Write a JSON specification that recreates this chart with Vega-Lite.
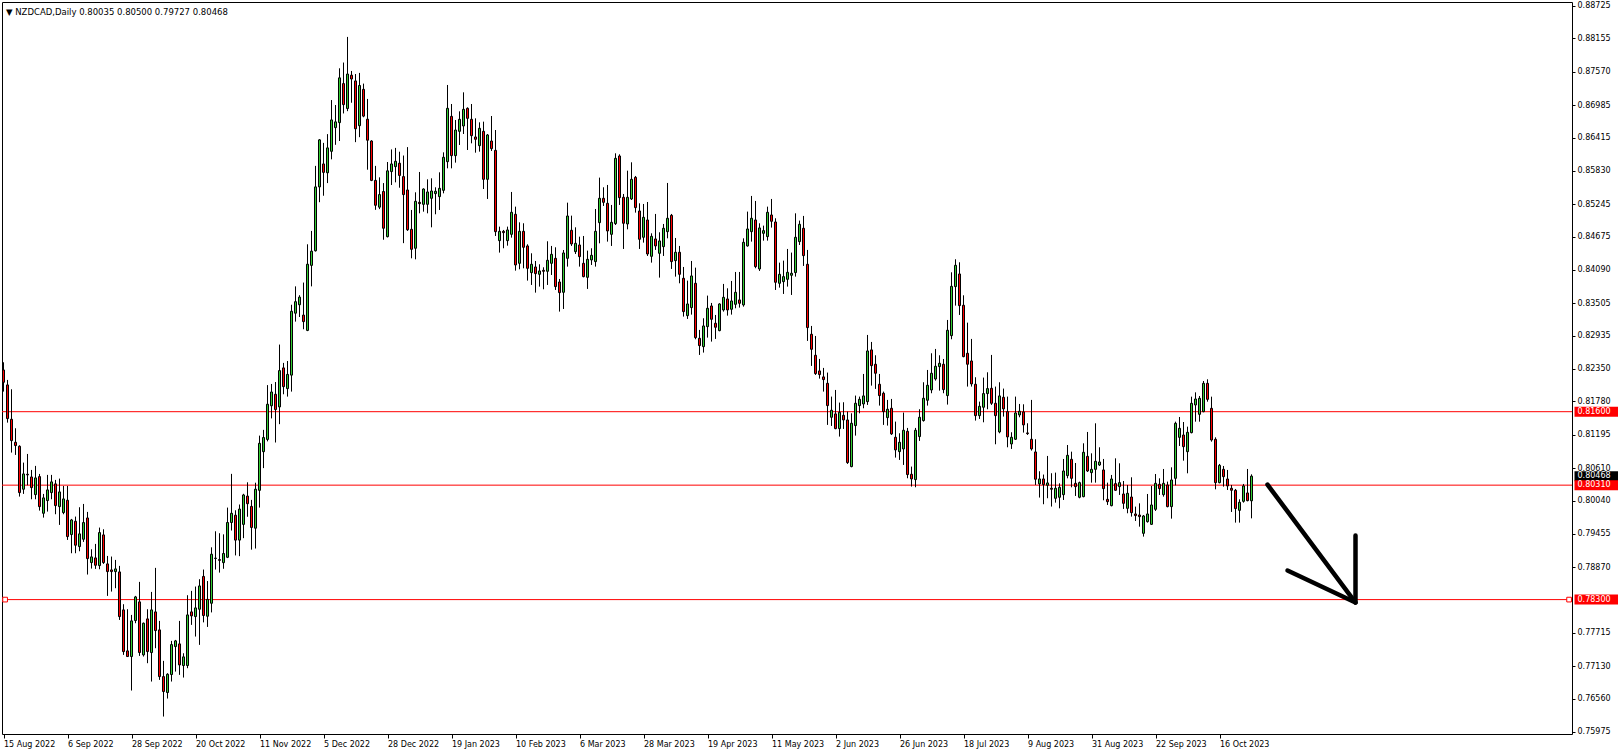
{
"$schema":"https://vega.github.io/schema/vega-lite/v6.json",
"width":1570,"height":732,"autosize":"none",
"padding":{"left":2,"top":2,"right":46,"bottom":21},
"background":"white",
"config":{"view":{"stroke":"#000","strokeWidth":1},"font":"DejaVu Sans",
 "axisX":{"grid":false,"domain":false,"tickSize":4,"tickColor":"#000","tickWidth":1,"labelAlign":"left","labelBaseline":"top","labelPadding":2,"labelDx":1,"labelFont":"DejaVu Sans","labelFontSize":8,"labelColor":"#000","labelOverlap":false,"labelFlush":false,"labelBound":false,"title":null,"offset":0},
 "axisY":{"grid":false,"domain":false,"tickSize":3,"tickColor":"#000","tickWidth":1,"labelPadding":2,"labelFont":"DejaVu Sans","labelFontSize":8,"labelColor":"#000","labelOverlap":false,"labelFlush":false,"labelBound":false,"labelBaseline":"middle","title":null,"offset":0}},
"title":{"text":"▼ NZDCAD,Daily  0.80035 0.80500 0.79727 0.80468","anchor":"start","frame":"group","orient":"top","offset":0,"baseline":"alphabetic","dy":22,"dx":4,"fontSize":8.5,"fontWeight":"normal","font":"DejaVu Sans","color":"#000"},
"datasets":{
"lv":[{"p":0.816},{"p":0.8031},{"p":0.783}],
"sq":[{"i":0.4,"p":0.783},{"i":391.4,"p":0.783}],
"lab":[{"p":0.80468,"t":"0.80468","k":"bid"},{"p":0.816,"t":"0.81600","k":"line"},{"p":0.8031,"t":"0.80310","k":"line"},{"p":0.783,"t":"0.78300","k":"line"}],
"arrow":[{"s":"a","n":1,"i":316,"p":0.8032},{"s":"a","n":2,"i":338,"p":0.78248},{"s":"b","n":1,"i":338,"p":0.79425},{"s":"b","n":2,"i":338,"p":0.78248},{"s":"b","n":3,"i":321,"p":0.7881}],
"k":[
{"i":0,"o":0.82333,"h":0.82468,"l":0.81953,"c":0.82117},
{"i":1,"o":0.8207,"h":0.82158,"l":0.81408,"c":0.81479},
{"i":2,"o":0.81467,"h":0.81994,"l":0.80882,"c":0.81092},
{"i":3,"o":0.81063,"h":0.81309,"l":0.80841,"c":0.81005},
{"i":4,"o":0.80993,"h":0.8101,"l":0.80109,"c":0.80179},
{"i":5,"o":0.80238,"h":0.80706,"l":0.80156,"c":0.80507},
{"i":6,"o":0.80501,"h":0.80858,"l":0.80308,"c":0.8049},
{"i":7,"o":0.80454,"h":0.80577,"l":0.80062,"c":0.80267},
{"i":8,"o":0.80144,"h":0.80648,"l":0.80062,"c":0.80437},
{"i":9,"o":0.8046,"h":0.80507,"l":0.79863,"c":0.79933},
{"i":10,"o":0.79816,"h":0.80156,"l":0.7974,"c":0.80086},
{"i":11,"o":0.80039,"h":0.8049,"l":0.79846,"c":0.80226},
{"i":12,"o":0.80179,"h":0.8049,"l":0.80062,"c":0.80367},
{"i":13,"o":0.80332,"h":0.80402,"l":0.79799,"c":0.79951},
{"i":14,"o":0.79933,"h":0.80425,"l":0.79612,"c":0.80191},
{"i":15,"o":0.79828,"h":0.80296,"l":0.79799,"c":0.80068},
{"i":16,"o":0.80045,"h":0.80296,"l":0.79348,"c":0.79407},
{"i":17,"o":0.79442,"h":0.79717,"l":0.79114,"c":0.79699},
{"i":18,"o":0.79676,"h":0.79758,"l":0.79114,"c":0.79255},
{"i":19,"o":0.79231,"h":0.79922,"l":0.79149,"c":0.79454},
{"i":20,"o":0.7936,"h":0.7998,"l":0.79313,"c":0.79653},
{"i":21,"o":0.79734,"h":0.7984,"l":0.7874,"c":0.7902},
{"i":22,"o":0.7895,"h":0.79184,"l":0.78845,"c":0.7905},
{"i":23,"o":0.79032,"h":0.79278,"l":0.78839,"c":0.78903},
{"i":24,"o":0.78898,"h":0.79565,"l":0.78833,"c":0.79477},
{"i":25,"o":0.79436,"h":0.79535,"l":0.78927,"c":0.7895},
{"i":26,"o":0.78927,"h":0.79067,"l":0.78365,"c":0.78792},
{"i":27,"o":0.78821,"h":0.79056,"l":0.78441,"c":0.78792},
{"i":28,"o":0.78792,"h":0.78997,"l":0.785,"c":0.78839},
{"i":29,"o":0.78786,"h":0.78892,"l":0.77943,"c":0.78002},
{"i":30,"o":0.78119,"h":0.78219,"l":0.77329,"c":0.77387},
{"i":31,"o":0.77399,"h":0.78131,"l":0.77295,"c":0.773},
{"i":32,"o":0.773,"h":0.78031,"l":0.76703,"c":0.77926},
{"i":33,"o":0.77932,"h":0.78365,"l":0.77885,"c":0.78347},
{"i":34,"o":0.7826,"h":0.78611,"l":0.77311,"c":0.7737},
{"i":35,"o":0.77329,"h":0.77897,"l":0.773,"c":0.77885},
{"i":36,"o":0.77961,"h":0.78131,"l":0.77183,"c":0.77387},
{"i":37,"o":0.7737,"h":0.78435,"l":0.76861,"c":0.78119},
{"i":38,"o":0.78084,"h":0.78857,"l":0.77446,"c":0.77756},
{"i":39,"o":0.77768,"h":0.77926,"l":0.7689,"c":0.76948},
{"i":40,"o":0.76948,"h":0.77224,"l":0.76246,"c":0.76685},
{"i":41,"o":0.76668,"h":0.77007,"l":0.76562,"c":0.76989},
{"i":42,"o":0.76984,"h":0.77575,"l":0.76861,"c":0.7751},
{"i":43,"o":0.77475,"h":0.77592,"l":0.77036,"c":0.77575},
{"i":44,"o":0.77522,"h":0.77926,"l":0.76978,"c":0.77153},
{"i":45,"o":0.77142,"h":0.77358,"l":0.76931,"c":0.77294},
{"i":46,"o":0.77142,"h":0.78377,"l":0.77095,"c":0.78031},
{"i":47,"o":0.78084,"h":0.78453,"l":0.77856,"c":0.78014},
{"i":48,"o":0.78002,"h":0.78529,"l":0.77651,"c":0.78154},
{"i":49,"o":0.78131,"h":0.78658,"l":0.77505,"c":0.7854},
{"i":50,"o":0.78707,"h":0.78828,"l":0.779,"c":0.78021},
{"i":51,"o":0.78008,"h":0.78626,"l":0.7782,"c":0.78304},
{"i":52,"o":0.78236,"h":0.79218,"l":0.78075,"c":0.79097},
{"i":53,"o":0.79022,"h":0.795,"l":0.78828,"c":0.79029},
{"i":54,"o":0.79003,"h":0.79466,"l":0.78774,"c":0.78989},
{"i":55,"o":0.78949,"h":0.79446,"l":0.78841,"c":0.7911},
{"i":56,"o":0.79043,"h":0.79916,"l":0.79029,"c":0.79654},
{"i":57,"o":0.79654,"h":0.80508,"l":0.79513,"c":0.79816},
{"i":58,"o":0.79782,"h":0.79869,"l":0.79076,"c":0.79345},
{"i":59,"o":0.79345,"h":0.7997,"l":0.79063,"c":0.7989},
{"i":60,"o":0.79621,"h":0.80158,"l":0.79379,"c":0.80138},
{"i":61,"o":0.80118,"h":0.8036,"l":0.79755,"c":0.79984},
{"i":62,"o":0.79937,"h":0.80051,"l":0.79177,"c":0.79567},
{"i":63,"o":0.79554,"h":0.80353,"l":0.79197,"c":0.80239},
{"i":64,"o":0.80219,"h":0.8118,"l":0.79916,"c":0.81045},
{"i":65,"o":0.80898,"h":0.81281,"l":0.80609,"c":0.81146},
{"i":66,"o":0.81113,"h":0.82067,"l":0.81079,"c":0.81731},
{"i":67,"o":0.81704,"h":0.82087,"l":0.81482,"c":0.81946},
{"i":68,"o":0.81906,"h":0.82121,"l":0.81059,"c":0.81637},
{"i":69,"o":0.81684,"h":0.82779,"l":0.81381,"c":0.82322},
{"i":70,"o":0.82369,"h":0.82457,"l":0.81906,"c":0.8204},
{"i":71,"o":0.82006,"h":0.8249,"l":0.81865,"c":0.82255},
{"i":72,"o":0.82242,"h":0.83478,"l":0.81953,"c":0.83364},
{"i":73,"o":0.8333,"h":0.83801,"l":0.83182,"c":0.83532},
{"i":74,"o":0.83478,"h":0.83646,"l":0.83263,"c":0.83612},
{"i":75,"o":0.83297,"h":0.83868,"l":0.83048,"c":0.83182},
{"i":76,"o":0.83028,"h":0.8454,"l":0.83015,"c":0.8419},
{"i":77,"o":0.8417,"h":0.84775,"l":0.83801,"c":0.84419},
{"i":78,"o":0.84426,"h":0.85917,"l":0.84413,"c":0.85548},
{"i":79,"o":0.85548,"h":0.86388,"l":0.85279,"c":0.86374},
{"i":80,"o":0.85951,"h":0.86321,"l":0.85393,"c":0.85803},
{"i":81,"o":0.85796,"h":0.86475,"l":0.85615,"c":0.86233},
{"i":82,"o":0.86173,"h":0.87073,"l":0.86032,"c":0.86724},
{"i":83,"o":0.86589,"h":0.86986,"l":0.86287,"c":0.8669},
{"i":84,"o":0.86677,"h":0.87631,"l":0.86354,"c":0.87463},
{"i":85,"o":0.87362,"h":0.87732,"l":0.86838,"c":0.86993},
{"i":86,"o":0.86925,"h":0.88182,"l":0.86878,"c":0.8753},
{"i":87,"o":0.8751,"h":0.87584,"l":0.87026,"c":0.87443},
{"i":88,"o":0.87409,"h":0.8753,"l":0.86334,"c":0.86569},
{"i":89,"o":0.86623,"h":0.8755,"l":0.86421,"c":0.87329},
{"i":90,"o":0.87261,"h":0.87362,"l":0.86771,"c":0.86791},
{"i":91,"o":0.86737,"h":0.87093,"l":0.8585,"c":0.86368},
{"i":92,"o":0.86354,"h":0.86368,"l":0.85649,"c":0.85662},
{"i":93,"o":0.85662,"h":0.85917,"l":0.85145,"c":0.85225},
{"i":94,"o":0.85192,"h":0.85716,"l":0.85158,"c":0.85413},
{"i":95,"o":0.85467,"h":0.85615,"l":0.8462,"c":0.84822},
{"i":96,"o":0.84674,"h":0.85985,"l":0.84661,"c":0.8583},
{"i":97,"o":0.85817,"h":0.86206,"l":0.85581,"c":0.85951},
{"i":98,"o":0.85904,"h":0.86233,"l":0.85628,"c":0.85998},
{"i":99,"o":0.85964,"h":0.86166,"l":0.85534,"c":0.85749},
{"i":100,"o":0.85729,"h":0.86099,"l":0.8456,"c":0.85413},
{"i":101,"o":0.85494,"h":0.86247,"l":0.84775,"c":0.84795},
{"i":102,"o":0.84803,"h":0.85143,"l":0.84294,"c":0.84452},
{"i":103,"o":0.8447,"h":0.85453,"l":0.84276,"c":0.85295},
{"i":104,"o":0.85277,"h":0.8581,"l":0.85084,"c":0.85254},
{"i":105,"o":0.85242,"h":0.85523,"l":0.85113,"c":0.85511},
{"i":106,"o":0.85242,"h":0.85681,"l":0.85084,"c":0.85459},
{"i":107,"o":0.85348,"h":0.85699,"l":0.84838,"c":0.85476},
{"i":108,"o":0.8543,"h":0.85541,"l":0.85067,"c":0.85471},
{"i":109,"o":0.85377,"h":0.85804,"l":0.85143,"c":0.85523},
{"i":110,"o":0.85488,"h":0.86155,"l":0.85435,"c":0.86068},
{"i":111,"o":0.85991,"h":0.87338,"l":0.85874,"c":0.86928},
{"i":112,"o":0.86787,"h":0.87004,"l":0.85874,"c":0.86097},
{"i":113,"o":0.86097,"h":0.86723,"l":0.85974,"c":0.86547},
{"i":114,"o":0.86524,"h":0.86875,"l":0.86284,"c":0.86735},
{"i":115,"o":0.86618,"h":0.87209,"l":0.86477,"c":0.8691},
{"i":116,"o":0.86928,"h":0.86945,"l":0.86196,"c":0.86752},
{"i":117,"o":0.86735,"h":0.87004,"l":0.86313,"c":0.86448},
{"i":118,"o":0.86425,"h":0.86752,"l":0.86149,"c":0.86384},
{"i":119,"o":0.86272,"h":0.86682,"l":0.86167,"c":0.86577},
{"i":120,"o":0.86524,"h":0.86694,"l":0.85511,"c":0.85681},
{"i":121,"o":0.85681,"h":0.86477,"l":0.85336,"c":0.8646},
{"i":122,"o":0.86354,"h":0.86793,"l":0.86179,"c":0.8622},
{"i":123,"o":0.8619,"h":0.86547,"l":0.84686,"c":0.84762},
{"i":124,"o":0.84604,"h":0.8485,"l":0.84394,"c":0.84768},
{"i":125,"o":0.84768,"h":0.84792,"l":0.8447,"c":0.84745},
{"i":126,"o":0.84604,"h":0.8485,"l":0.84516,"c":0.84792},
{"i":127,"o":0.84715,"h":0.85459,"l":0.84657,"c":0.85102},
{"i":128,"o":0.85067,"h":0.85201,"l":0.84077,"c":0.84177},
{"i":129,"o":0.84206,"h":0.84926,"l":0.84101,"c":0.84768},
{"i":130,"o":0.84768,"h":0.84909,"l":0.84118,"c":0.84487},
{"i":131,"o":0.84511,"h":0.8454,"l":0.83902,"c":0.84118},
{"i":132,"o":0.84042,"h":0.84382,"l":0.83826,"c":0.84189},
{"i":133,"o":0.84142,"h":0.84247,"l":0.83691,"c":0.84025},
{"i":134,"o":0.84013,"h":0.84189,"l":0.83797,"c":0.84072},
{"i":135,"o":0.84083,"h":0.84136,"l":0.8375,"c":0.84066},
{"i":136,"o":0.84066,"h":0.84593,"l":0.83826,"c":0.84259},
{"i":137,"o":0.84206,"h":0.84511,"l":0.84001,"c":0.84364},
{"i":138,"o":0.84294,"h":0.84487,"l":0.83738,"c":0.83797},
{"i":139,"o":0.83878,"h":0.83931,"l":0.83358,"c":0.83691},
{"i":140,"o":0.83697,"h":0.8444,"l":0.83404,"c":0.84388},
{"i":141,"o":0.84294,"h":0.85271,"l":0.84148,"c":0.85037},
{"i":142,"o":0.84786,"h":0.85043,"l":0.84511,"c":0.84546},
{"i":143,"o":0.84411,"h":0.84838,"l":0.8437,"c":0.84557},
{"i":144,"o":0.84528,"h":0.84674,"l":0.84148,"c":0.84323},
{"i":145,"o":0.84206,"h":0.84686,"l":0.8396,"c":0.83972},
{"i":146,"o":0.8396,"h":0.84429,"l":0.83756,"c":0.84276},
{"i":147,"o":0.84265,"h":0.8447,"l":0.84177,"c":0.84347},
{"i":148,"o":0.84236,"h":0.8516,"l":0.84148,"c":0.84768},
{"i":149,"o":0.8492,"h":0.85711,"l":0.84557,"c":0.85348},
{"i":150,"o":0.85348,"h":0.85541,"l":0.85213,"c":0.85277},
{"i":151,"o":0.8526,"h":0.85582,"l":0.84587,"c":0.84774},
{"i":152,"o":0.84715,"h":0.85231,"l":0.84511,"c":0.84926},
{"i":153,"o":0.84903,"h":0.86138,"l":0.84879,"c":0.8605},
{"i":154,"o":0.86091,"h":0.8612,"l":0.85231,"c":0.85359},
{"i":155,"o":0.85365,"h":0.85424,"l":0.84458,"c":0.84909},
{"i":156,"o":0.84897,"h":0.85833,"l":0.84803,"c":0.85365},
{"i":157,"o":0.85336,"h":0.8598,"l":0.85318,"c":0.85681},
{"i":158,"o":0.85716,"h":0.8574,"l":0.85096,"c":0.85184},
{"i":159,"o":0.85125,"h":0.8526,"l":0.84458,"c":0.84628},
{"i":160,"o":0.84663,"h":0.85248,"l":0.84569,"c":0.85014},
{"i":161,"o":0.84967,"h":0.85283,"l":0.84335,"c":0.8437},
{"i":162,"o":0.84329,"h":0.84733,"l":0.84218,"c":0.8468},
{"i":163,"o":0.84634,"h":0.85073,"l":0.84441,"c":0.84511},
{"i":164,"o":0.84382,"h":0.84751,"l":0.83955,"c":0.84599},
{"i":165,"o":0.84499,"h":0.84897,"l":0.84335,"c":0.84821},
{"i":166,"o":0.84762,"h":0.85617,"l":0.84645,"c":0.84997},
{"i":167,"o":0.85049,"h":0.85073,"l":0.84107,"c":0.84236},
{"i":168,"o":0.84253,"h":0.84651,"l":0.83972,"c":0.844},
{"i":169,"o":0.844,"h":0.84511,"l":0.83855,"c":0.84013},
{"i":170,"o":0.83943,"h":0.84142,"l":0.8327,"c":0.83358},
{"i":171,"o":0.83287,"h":0.83902,"l":0.83229,"c":0.83492},
{"i":172,"o":0.83428,"h":0.84247,"l":0.83305,"c":0.83984},
{"i":173,"o":0.83855,"h":0.8413,"l":0.82872,"c":0.82901},
{"i":174,"o":0.82889,"h":0.83036,"l":0.82597,"c":0.82761},
{"i":175,"o":0.82743,"h":0.83241,"l":0.82638,"c":0.83106},
{"i":176,"o":0.83094,"h":0.83639,"l":0.82901,"c":0.83416},
{"i":177,"o":0.83457,"h":0.8351,"l":0.82831,"c":0.83223},
{"i":178,"o":0.83153,"h":0.83299,"l":0.82878,"c":0.83083},
{"i":179,"o":0.83024,"h":0.83504,"l":0.83012,"c":0.83492},
{"i":180,"o":0.83387,"h":0.83844,"l":0.83358,"c":0.83609},
{"i":181,"o":0.8358,"h":0.83767,"l":0.83287,"c":0.83387},
{"i":182,"o":0.83399,"h":0.83896,"l":0.83305,"c":0.83545},
{"i":183,"o":0.83486,"h":0.84054,"l":0.83416,"c":0.83697},
{"i":184,"o":0.83563,"h":0.84054,"l":0.83428,"c":0.83504},
{"i":185,"o":0.83475,"h":0.84645,"l":0.83445,"c":0.84575},
{"i":186,"o":0.84511,"h":0.85114,"l":0.84499,"c":0.84809},
{"i":187,"o":0.84762,"h":0.85389,"l":0.84587,"c":0.84997},
{"i":188,"o":0.84967,"h":0.85301,"l":0.84119,"c":0.84148},
{"i":189,"o":0.84107,"h":0.84909,"l":0.84072,"c":0.84827},
{"i":190,"o":0.84733,"h":0.84868,"l":0.84604,"c":0.8478},
{"i":191,"o":0.84675,"h":0.85201,"l":0.84604,"c":0.85102},
{"i":192,"o":0.85055,"h":0.85336,"l":0.84833,"c":0.84944},
{"i":193,"o":0.84932,"h":0.84997,"l":0.83738,"c":0.83873},
{"i":194,"o":0.83855,"h":0.84218,"l":0.83779,"c":0.84013},
{"i":195,"o":0.83884,"h":0.84253,"l":0.83668,"c":0.83972},
{"i":196,"o":0.83925,"h":0.84458,"l":0.83797,"c":0.84048},
{"i":197,"o":0.83996,"h":0.84394,"l":0.8365,"c":0.84031},
{"i":198,"o":0.84043,"h":0.85084,"l":0.83972,"c":0.84663},
{"i":199,"o":0.84587,"h":0.84956,"l":0.84528,"c":0.84891},
{"i":200,"o":0.84821,"h":0.85038,"l":0.8416,"c":0.84341},
{"i":201,"o":0.84189,"h":0.84441,"l":0.82843,"c":0.83077},
{"i":202,"o":0.8296,"h":0.83106,"l":0.82404,"c":0.82696},
{"i":203,"o":0.82591,"h":0.8293,"l":0.82246,"c":0.82269},
{"i":204,"o":0.82316,"h":0.82527,"l":0.82181,"c":0.82252},
{"i":205,"o":0.82211,"h":0.82369,"l":0.81953,"c":0.82164},
{"i":206,"o":0.82099,"h":0.82287,"l":0.81368,"c":0.81707},
{"i":207,"o":0.81502,"h":0.81865,"l":0.8135,"c":0.81625},
{"i":208,"o":0.81561,"h":0.81982,"l":0.81292,"c":0.81303},
{"i":209,"o":0.81303,"h":0.8176,"l":0.81163,"c":0.8159},
{"i":210,"o":0.81537,"h":0.81766,"l":0.81297,"c":0.81455},
{"i":211,"o":0.81455,"h":0.81602,"l":0.80683,"c":0.80706},
{"i":212,"o":0.80636,"h":0.81572,"l":0.80624,"c":0.81397},
{"i":213,"o":0.81356,"h":0.81883,"l":0.8118,"c":0.81748},
{"i":214,"o":0.81707,"h":0.81865,"l":0.81572,"c":0.81818},
{"i":215,"o":0.81736,"h":0.82263,"l":0.8166,"c":0.81877},
{"i":216,"o":0.81777,"h":0.82948,"l":0.81719,"c":0.82667},
{"i":217,"o":0.82685,"h":0.82825,"l":0.82058,"c":0.82409},
{"i":218,"o":0.82433,"h":0.82591,"l":0.82,"c":0.82275},
{"i":219,"o":0.82082,"h":0.82263,"l":0.81707,"c":0.81883},
{"i":220,"o":0.81924,"h":0.81953,"l":0.81368,"c":0.81602},
{"i":221,"o":0.81496,"h":0.81807,"l":0.81356,"c":0.81643},
{"i":222,"o":0.8166,"h":0.81824,"l":0.81192,"c":0.8121},
{"i":223,"o":0.81151,"h":0.81426,"l":0.80794,"c":0.80929},
{"i":224,"o":0.80899,"h":0.81221,"l":0.80753,"c":0.81063},
{"i":225,"o":0.80946,"h":0.81584,"l":0.80665,"c":0.81274},
{"i":226,"o":0.81256,"h":0.81315,"l":0.80431,"c":0.80496},
{"i":227,"o":0.80501,"h":0.80636,"l":0.80285,"c":0.80419},
{"i":228,"o":0.80408,"h":0.81315,"l":0.80273,"c":0.81274},
{"i":229,"o":0.81163,"h":0.81643,"l":0.81087,"c":0.81502},
{"i":230,"o":0.81444,"h":0.82117,"l":0.81426,"c":0.81836},
{"i":231,"o":0.81801,"h":0.82333,"l":0.81707,"c":0.82064},
{"i":232,"o":0.81982,"h":0.82626,"l":0.81924,"c":0.82275},
{"i":233,"o":0.82175,"h":0.82702,"l":0.82146,"c":0.82398},
{"i":234,"o":0.82392,"h":0.82591,"l":0.8197,"c":0.8245},
{"i":235,"o":0.82433,"h":0.82526,"l":0.81924,"c":0.81988},
{"i":236,"o":0.81883,"h":0.83211,"l":0.81725,"c":0.8303},
{"i":237,"o":0.82936,"h":0.84048,"l":0.82872,"c":0.83802},
{"i":238,"o":0.83797,"h":0.84277,"l":0.83463,"c":0.84171},
{"i":239,"o":0.84019,"h":0.84224,"l":0.83299,"c":0.83463},
{"i":240,"o":0.83469,"h":0.83644,"l":0.82556,"c":0.82567},
{"i":241,"o":0.82626,"h":0.83164,"l":0.82041,"c":0.82433},
{"i":242,"o":0.82491,"h":0.82878,"l":0.82041,"c":0.82088},
{"i":243,"o":0.82082,"h":0.82205,"l":0.81444,"c":0.81531},
{"i":244,"o":0.81531,"h":0.81777,"l":0.81473,"c":0.81695},
{"i":245,"o":0.81678,"h":0.82199,"l":0.81414,"c":0.81918},
{"i":246,"o":0.81918,"h":0.82292,"l":0.81643,"c":0.82006},
{"i":247,"o":0.82011,"h":0.82597,"l":0.81719,"c":0.81748},
{"i":248,"o":0.81748,"h":0.82041,"l":0.81028,"c":0.81531},
{"i":249,"o":0.81245,"h":0.82117,"l":0.81221,"c":0.81877},
{"i":250,"o":0.81853,"h":0.82006,"l":0.81514,"c":0.81649},
{"i":251,"o":0.81602,"h":0.81865,"l":0.80975,"c":0.81157},
{"i":252,"o":0.81034,"h":0.81239,"l":0.80946,"c":0.81151},
{"i":253,"o":0.81116,"h":0.81865,"l":0.81104,"c":0.81578},
{"i":254,"o":0.81543,"h":0.81736,"l":0.81502,"c":0.81608},
{"i":255,"o":0.81596,"h":0.8173,"l":0.81233,"c":0.81368},
{"i":256,"o":0.81227,"h":0.81397,"l":0.81192,"c":0.81215},
{"i":257,"o":0.81116,"h":0.81807,"l":0.80917,"c":0.80946},
{"i":258,"o":0.80893,"h":0.81116,"l":0.80314,"c":0.80414},
{"i":259,"o":0.80332,"h":0.80554,"l":0.80092,"c":0.80419},
{"i":260,"o":0.80419,"h":0.80496,"l":0.79975,"c":0.8032},
{"i":261,"o":0.80308,"h":0.80823,"l":0.8008,"c":0.80349},
{"i":262,"o":0.80256,"h":0.80519,"l":0.79934,"c":0.80238},
{"i":263,"o":0.80079,"h":0.8053,"l":0.80003,"c":0.80255},
{"i":264,"o":0.80097,"h":0.80342,"l":0.79903,"c":0.80272},
{"i":265,"o":0.80143,"h":0.8077,"l":0.8005,"c":0.80559},
{"i":266,"o":0.80477,"h":0.81015,"l":0.8043,"c":0.80834},
{"i":267,"o":0.80764,"h":0.80898,"l":0.80272,"c":0.8043},
{"i":268,"o":0.80342,"h":0.80699,"l":0.8012,"c":0.80284},
{"i":269,"o":0.80097,"h":0.80372,"l":0.80079,"c":0.80354},
{"i":270,"o":0.80108,"h":0.81045,"l":0.80097,"c":0.80887},
{"i":271,"o":0.80816,"h":0.81244,"l":0.80541,"c":0.80559},
{"i":272,"o":0.8053,"h":0.80869,"l":0.80354,"c":0.80588},
{"i":273,"o":0.80588,"h":0.81396,"l":0.80354,"c":0.80729},
{"i":274,"o":0.80664,"h":0.80975,"l":0.80647,"c":0.80717},
{"i":275,"o":0.80577,"h":0.8077,"l":0.80044,"c":0.80249},
{"i":276,"o":0.80061,"h":0.80354,"l":0.79962,"c":0.8002},
{"i":277,"o":0.7995,"h":0.80489,"l":0.79938,"c":0.80418},
{"i":278,"o":0.80337,"h":0.80781,"l":0.80208,"c":0.8022},
{"i":279,"o":0.80284,"h":0.80694,"l":0.80138,"c":0.80354},
{"i":280,"o":0.80155,"h":0.80383,"l":0.79892,"c":0.79991},
{"i":281,"o":0.79903,"h":0.80313,"l":0.79816,"c":0.80167},
{"i":282,"o":0.80102,"h":0.80448,"l":0.79757,"c":0.79827},
{"i":283,"o":0.79804,"h":0.79933,"l":0.79681,"c":0.79775},
{"i":284,"o":0.79786,"h":0.79991,"l":0.79581,"c":0.79757},
{"i":285,"o":0.79464,"h":0.79786,"l":0.79406,"c":0.79769},
{"i":286,"o":0.79669,"h":0.80155,"l":0.79652,"c":0.79804},
{"i":287,"o":0.79622,"h":0.80296,"l":0.7961,"c":0.79962},
{"i":288,"o":0.79886,"h":0.80506,"l":0.79857,"c":0.80342},
{"i":289,"o":0.80325,"h":0.8043,"l":0.80138,"c":0.80249},
{"i":290,"o":0.80143,"h":0.80594,"l":0.80108,"c":0.80342},
{"i":291,"o":0.80313,"h":0.80372,"l":0.79921,"c":0.79933},
{"i":292,"o":0.79933,"h":0.80623,"l":0.79722,"c":0.80401},
{"i":293,"o":0.8043,"h":0.81425,"l":0.80307,"c":0.81396},
{"i":294,"o":0.8115,"h":0.81507,"l":0.80998,"c":0.81308},
{"i":295,"o":0.81191,"h":0.81419,"l":0.8074,"c":0.80986},
{"i":296,"o":0.80898,"h":0.81337,"l":0.80518,"c":0.81238},
{"i":297,"o":0.81232,"h":0.81864,"l":0.8122,"c":0.81747},
{"i":298,"o":0.81718,"h":0.8194,"l":0.81425,"c":0.81823},
{"i":299,"o":0.81554,"h":0.81876,"l":0.81425,"c":0.81835},
{"i":300,"o":0.81601,"h":0.82139,"l":0.8159,"c":0.82098},
{"i":301,"o":0.82098,"h":0.82169,"l":0.81776,"c":0.81817},
{"i":302,"o":0.81659,"h":0.81864,"l":0.81074,"c":0.81103},
{"i":303,"o":0.81115,"h":0.8115,"l":0.80237,"c":0.80354},
{"i":304,"o":0.80354,"h":0.80682,"l":0.80342,"c":0.80658},
{"i":305,"o":0.80588,"h":0.80647,"l":0.80284,"c":0.80459},
{"i":306,"o":0.80418,"h":0.80577,"l":0.80225,"c":0.80296},
{"i":307,"o":0.80255,"h":0.80313,"l":0.79839,"c":0.8022},
{"i":308,"o":0.8022,"h":0.80243,"l":0.79652,"c":0.79898},
{"i":309,"o":0.79868,"h":0.80061,"l":0.79652,"c":0.80009},
{"i":310,"o":0.80026,"h":0.80331,"l":0.80003,"c":0.80296},
{"i":311,"o":0.80173,"h":0.80594,"l":0.80026,"c":0.80038},
{"i":312,"o":0.80035,"h":0.805,"l":0.79727,"c":0.80468}
]},
"layer":[
{"data":{"name":"lv"},"mark":{"type":"rule","color":"#ff0000","strokeWidth":1},
 "encoding":{"y":{"field":"p","type":"quantitative","title":null,"scale":{"domain":[0.759396,0.887952],"nice":false,"zero":false,"padding":0}}}},
{"data":{"name":"k"},"mark":{"type":"rule","color":"#000000","strokeWidth":1},
 "encoding":{
  "x":{"field":"i","type":"quantitative","title":null,"scale":{"domain":[-0.375,392.125],"nice":false,"zero":false,"padding":0},
   "axis":{"orient":"bottom","tickCount":60,"values":[0,16,32,48,64,80,96,112,128,144,160,176,192,208,224,240,256,272,288,304],
    "labelExpr":"['15 Aug 2022','6 Sep 2022','28 Sep 2022','20 Oct 2022','11 Nov 2022','5 Dec 2022','28 Dec 2022','19 Jan 2023','10 Feb 2023','6 Mar 2023','28 Mar 2023','19 Apr 2023','11 May 2023','2 Jun 2023','26 Jun 2023','18 Jul 2023','9 Aug 2023','31 Aug 2023','22 Sep 2023','16 Oct 2023'][round(datum.value/16)]",
    "labelOverlap":false}},
  "y":{"field":"l","type":"quantitative","title":null,"scale":{"domain":[0.759396,0.887952],"nice":false,"zero":false,"padding":0},
   "axis":{"orient":"right","tickCount":60,"values":[0.88725,0.88155,0.8757,0.86985,0.86415,0.8583,0.85245,0.84675,0.8409,0.83505,0.82935,0.8235,0.8178,0.81195,0.8061,0.8004,0.79455,0.7887,0.77715,0.7713,0.7656,0.75975],
    "format":".5f","labelOverlap":false}},
  "y2":{"field":"h"}}},
{"data":{"name":"k"},"mark":{"type":"bar","width":2,"stroke":"#000000","strokeWidth":1},
 "encoding":{
  "x":{"field":"i","type":"quantitative","title":null},
  "y":{"field":"o","type":"quantitative","title":null},
  "y2":{"field":"c"},
  "fill":{"condition":{"test":"datum.c >= datum.o","value":"#32cd32"},"value":"#ff0000"}}},
{"data":{"name":"arrow"},"mark":{"type":"line","color":"#000000","strokeWidth":4.5,"strokeCap":"round","strokeJoin":"round"},
 "encoding":{"x":{"field":"i","type":"quantitative","title":null},"y":{"field":"p","type":"quantitative","title":null},"detail":{"field":"s"},"order":{"field":"n","type":"quantitative"}}},
{"data":{"name":"sq"},"mark":{"type":"point","shape":"square","size":22,"filled":true,"fill":"#ffffff","stroke":"#ff0000","strokeWidth":1,"opacity":1},
 "encoding":{"x":{"field":"i","type":"quantitative","title":null},"y":{"field":"p","type":"quantitative","title":null}}},
{"data":{"name":"lab"},"mark":{"type":"bar","orient":"horizontal","height":10},
 "encoding":{"y":{"field":"p","type":"quantitative","title":null},"x":{"datum":392.75},"x2":{"datum":404.5},
  "fill":{"field":"k","type":"nominal","scale":{"domain":["bid","line"],"range":["#000000","#ff0000"]},"legend":null}}},
{"data":{"name":"lab"},"mark":{"type":"text","align":"left","baseline":"middle","color":"#ffffff","font":"DejaVu Sans","fontSize":8,"dx":3},
 "encoding":{"y":{"field":"p","type":"quantitative","title":null},"x":{"datum":392.75},"text":{"field":"t"}}}
]
}
